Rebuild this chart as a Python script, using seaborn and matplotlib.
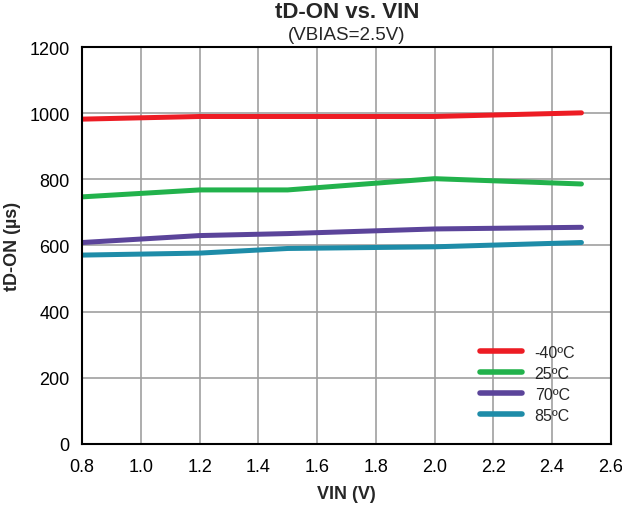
import numpy as np
import pandas as pd
import seaborn as sns
import matplotlib.pyplot as plt

# data
vin = [0.8, 1.2, 1.5, 2.0, 2.5]
t_m40 = [982, 990, 990, 990, 1001]
t_25 = [747, 768, 768, 802, 786]
t_70 = [609, 630, 636, 650, 655]
t_85 = [571, 577, 591, 596, 609]

labels = ['-40ºC', '25ºC', '70ºC', '85ºC']
colors = ['#ED1C24', '#22B24C', '#5B449A', '#1E8CA8']

x_ticks = [0.8, 1.0, 1.2, 1.4, 1.6, 1.8, 2.0, 2.2, 2.4, 2.6]
y_ticks = [0, 200, 400, 600, 800, 1000, 1200]

df = pd.DataFrame({
    'VIN': vin * 4,
    'tD': t_m40 + t_25 + t_70 + t_85,
    'Temp': [l for l in labels for _ in vin],
})

sns.set_style('white')
plt.rcParams['font.family'] = ['Liberation Sans', 'DejaVu Sans']

fig = plt.figure(figsize=(6.22, 5.06), dpi=100)
ax = fig.add_axes([0.132, 0.1206, 0.85, 0.7845])

sns.lineplot(data=df, x='VIN', y='tD', hue='Temp', palette=colors,
             hue_order=labels, linewidth=3.6, ax=ax,
             solid_capstyle='round')

ax.set_xlim(0.8, 2.6)
ax.set_ylim(0, 1200)
ax.set_xticks(x_ticks)
ax.set_xticklabels([f'{v:.1f}' for v in x_ticks])
ax.set_yticks(y_ticks)
ax.tick_params(axis='both', length=0, labelsize=13, colors='black')
ax.tick_params(axis='x', pad=10)
ax.tick_params(axis='y', pad=9)
ax.grid(True, color='#A0A0A0', linewidth=1.2)
ax.set_axisbelow(True)
for s in ax.spines.values():
    s.set_color('black')
    s.set_linewidth(1.5)

ax.set_xlabel('VIN (V)', fontsize=13, fontweight='bold', labelpad=7)
ax.set_ylabel('tD-ON (µs)', fontsize=13, fontweight='bold', labelpad=6)

fig.text(0.558, 0.975, 'tD-ON vs. VIN', ha='center', va='center',
         fontsize=16, fontweight='bold')
fig.text(0.558, 0.93, '(VBIAS=2.5V)', ha='center', va='center', fontsize=13.5)

leg = ax.legend(loc='lower right', bbox_to_anchor=(0.96, 0.017), frameon=False,
                fontsize=11.5, handlelength=2.6, labelspacing=0.38,
                handletextpad=0.8)
for h in leg.get_lines():
    h.set_linewidth(4)

fig.savefig('out.png', dpi=100)
